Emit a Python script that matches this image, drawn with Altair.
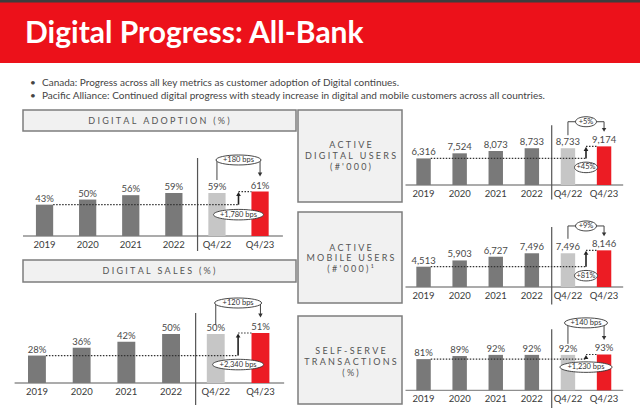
import altair as alt
import pandas as pd

# ---------------- data ----------------
categories = ["2019", "2020", "2021", "2022", "Q4/22", "Q4/23"]
bar_kind = ["annual", "annual", "annual", "annual", "prior", "current"]

digital_adoption = [43, 50, 56, 59, 59, 61]
digital_sales = [28, 36, 42, 50, 50, 51]
active_digital_users = [6316, 7524, 8073, 8733, 8733, 9174]
active_mobile_users = [4513, 5903, 6727, 7496, 7496, 8146]
self_serve = [81, 89, 92, 92, 92, 93]

# [change vs Q4/22, change vs 2019]
adoption_changes = ["+180 bps", "+1,780 bps"]
sales_changes = ["+120 bps", "+2,340 bps"]
digital_users_changes = ["+5%", "+45%"]
mobile_users_changes = ["+9%", "+81%"]
self_serve_changes = ["+140 bps", "+1,230 bps"]

title_text = "Digital Progress: All-Bank"
bullet_texts = [
    "Canada: Progress across all key metrics as customer adoption of Digital continues.",
    "Pacific Alliance: Continued digital progress with steady increase in digital and mobile customers across all countries.",
]
box_titles = {
    "adoption": ["DIGITAL ADOPTION (%)"],
    "sales": ["DIGITAL SALES (%)"],
    "digital": ["ACTIVE", "DIGITAL USERS", "(#'000)"],
    "mobile": ["ACTIVE", "MOBILE USERS", "(#'000)\u00b9"],
    "selfserve": ["SELF-SERVE", "TRANSACTIONS", "(%)"],
}

# ---------------- style ----------------
FONT = "Lato"
RED = "#ec111a"
kind_domain = ["annual", "prior", "current"]
kind_colors = ["#797979", "#c6c6c6", "#ec1c24"]
dummy = pd.DataFrame({"d": [0]})


def pct(v):
    return f"{v}%"


def thousands(v):
    return f"{v:,}"


def spaced(s):
    return "\u2005".join(s)


def ellipse_path(w, h):
    r = h / w
    return f"M-1,0A1,{r:.3f},0,1,1,1,0A1,{r:.3f},0,1,1,-1,0Z"


def panel(values, fmt, changes, xr, yr, ymax, g):
    df = pd.DataFrame({"cat": categories, "value": values, "kind": bar_kind})
    df["pos"] = list(range(len(categories)))
    df["label"] = [fmt(v) for v in values]
    xs = alt.Scale(domain=[-0.5, 5.5], range=list(xr), nice=False, zero=False)
    ys = alt.Scale(domain=[0, ymax], range=list(yr), nice=False, zero=False)

    def XD(v):
        return alt.XDatum(v, type="quantitative", scale=xs, axis=None)

    def YD(v):
        return alt.YDatum(v, type="quantitative", scale=ys, axis=None)

    v0, vq22, vq23 = values[0], values[4], values[5]
    base = alt.Chart(df)
    one = alt.Chart(dummy)
    layers = []
    # baseline
    layers.append(one.mark_rule(color="#8f8f8f", strokeWidth=1.3).encode(
        x=XD(-0.5), x2=alt.X2Datum(5.53), y=YD(0)))
    # separator
    layers.append(one.mark_rule(color="#555555", strokeWidth=1.2,
                                yOffset=g["sep"][0], y2Offset=g["sep"][1]).encode(
        x=XD(3.55), y=YD(0), y2=alt.Y2Datum(0)))
    # bars
    layers.append(base.mark_bar().transform_calculate(
        x0="datum.pos - 0.2", x1="datum.pos + 0.2").encode(
        x=alt.X("x0:Q", scale=xs, axis=None), x2="x1:Q",
        y=alt.Y("value:Q", scale=ys, axis=None), y2=alt.Y2Datum(0),
        color=alt.Color("kind:N", scale=alt.Scale(domain=kind_domain, range=kind_colors), legend=None)))
    # value labels
    layers.append(base.mark_text(font=FONT, fontSize=9.5, color="#4a4a4a",
                                 baseline="alphabetic", dy=-3).encode(
        x=alt.X("pos:Q", scale=xs, axis=None), y=alt.Y("value:Q", scale=ys, axis=None),
        text="label:N"))
    # category labels
    layers.append(base.mark_text(font=FONT, fontSize=9.5, color="#3a3a3a",
                                 baseline="middle", dy=9).encode(
        x=alt.X("pos:Q", scale=xs, axis=None), y=YD(0), text="cat:N"))
    # dotted reference lines
    layers.append(one.mark_rule(color="#333333", strokeWidth=1.2, strokeDash=[1.5, 1.5]).encode(
        x=XD(0.2), x2=alt.X2Datum(4.5), y=YD(v0)))
    layers.append(one.mark_rule(color="#333333", strokeWidth=1.2, strokeDash=[1.5, 1.5]).encode(
        x=XD(4.5), x2=alt.X2Datum(4.8), y=YD(vq23)))
    # up arrow
    layers.append(one.mark_rule(color="#222222", strokeWidth=1.6, y2Offset=4).encode(
        x=XD(4.5), y=YD(v0), y2=alt.Y2Datum(vq23)))
    layers.append(one.mark_point(shape="triangle-up", size=22, filled=True, color="#222222",
                                 opacity=1, yOffset=2.5).encode(x=XD(4.5), y=YD(vq23)))
    # bottom ellipse
    bw = g["botw"]
    layers.append(one.mark_point(shape=ellipse_path(bw, 10.5), size=bw * bw, filled=True,
                                 fill="white", stroke="#333333", strokeWidth=0.9, opacity=1,
                                 yOffset=g["bot"]).encode(x=XD(4.5), y=YD(v0)))
    layers.append(one.mark_text(font=FONT, fontSize=7.5, color="#333333", baseline="middle",
                                yOffset=g["bot"]).encode(x=XD(4.5), y=YD(v0),
                                                         text=alt.value(changes[1])))
    # top bracket
    top = g["top"]
    layers.append(one.mark_rule(color="#444444", strokeWidth=1, yOffset=g["lb"], y2Offset=top).encode(
        x=XD(4), y=YD(vq22), y2=alt.Y2Datum(vq22)))
    layers.append(one.mark_rule(color="#444444", strokeWidth=1, yOffset=top).encode(
        x=XD(4), x2=alt.X2Datum(5), y=YD(vq22)))
    layers.append(one.mark_rule(color="#444444", strokeWidth=1, yOffset=top,
                                y2Offset=g["tip"] - 3).encode(
        x=XD(5), y=YD(vq22), y2=alt.Y2Datum(vq23)))
    layers.append(one.mark_point(shape="triangle-down", size=20, filled=True, color="#333333",
                                 opacity=1, yOffset=g["tip"] - 2.5).encode(x=XD(5), y=YD(vq23)))
    tw = g["topw"]
    layers.append(one.mark_point(shape=ellipse_path(tw, 10), size=tw * tw, filled=True,
                                 fill="white", stroke="#333333", strokeWidth=0.9, opacity=1,
                                 yOffset=top).encode(x=XD(4.5), y=YD(vq22)))
    layers.append(one.mark_text(font=FONT, fontSize=7.5, color="#333333", baseline="middle",
                                yOffset=top).encode(x=XD(4.5), y=YD(vq22),
                                                    text=alt.value(changes[0])))
    return alt.layer(*layers)


def box(x0, y0, x1, y1, lines, cx, ys_lines):
    one = alt.Chart(dummy)
    out = [one.mark_rect(fill="#f1f1f1", stroke="#7d7d7d", strokeWidth=1.5).encode(
        x=alt.value(x0), x2=alt.value(x1), y=alt.value(y0), y2=alt.value(y1))]
    for line, yy in zip(lines, ys_lines):
        out.append(one.mark_text(font=FONT, fontSize=9, color="#555555", baseline="middle",
                                 align="center").encode(
            x=alt.value(cx), y=alt.value(yy), text=alt.value(spaced(line))))
    return out


one = alt.Chart(dummy)
header = [
    one.mark_rect(fill="#3d3d3d").encode(x=alt.value(0), x2=alt.value(640), y=alt.value(0), y2=alt.value(3)),
    one.mark_rect(fill=RED).encode(x=alt.value(0), x2=alt.value(640), y=alt.value(2.5), y2=alt.value(63)),
    one.mark_text(font=FONT, fontSize=30, fontWeight="bold", color="white", align="left",
                  baseline="alphabetic").encode(x=alt.value(25), y=alt.value(43),
                                                 text=alt.value(title_text)),
]
for i, t in enumerate(bullet_texts):
    yy = 82.5 + i * 13
    header.append(one.mark_text(font=FONT, fontSize=10, color="#444444", align="left",
                                baseline="middle").encode(x=alt.value(30), y=alt.value(yy),
                                                         text=alt.value("\u2022")))
    header.append(one.mark_text(font=FONT, fontSize=10, color="#444444", align="left",
                                baseline="middle").encode(x=alt.value(42), y=alt.value(yy),
                                                         text=alt.value(t)))

boxes = []
boxes += box(23, 110, 296, 131, box_titles["adoption"], 159, [120.5])
boxes += box(23, 260, 296, 282, box_titles["sales"], 159, [271])
boxes += box(298, 110, 402, 202, box_titles["digital"], 350.5, [145, 156.2, 167.4])
boxes += box(298, 212, 402, 303, box_titles["mobile"], 350.5, [248, 258.3, 268.6])
boxes += box(298, 316, 402, 404, box_titles["selfserve"], 350.5, [350.5, 361.5, 372.5])

p1 = panel(digital_adoption, pct, adoption_changes, (23, 281.6), (236, 163.1), 100,
           dict(lb=-13, top=-33, tip=-14.5, bot=10, sep=(15, -78), topw=45, botw=50))
p2 = panel(digital_sales, pct, sales_changes, (14.6, 282.8), (383, 285), 100,
           dict(lb=-9, top=-31, tip=-15, bot=9, sep=(22, -70), topw=47, botw=51))
p3 = panel(active_digital_users, thousands, digital_users_changes, (405.5, 622.1), (185, 142.9), 10000,
           dict(lb=-13, top=-26.5, tip=-14, bot=9, sep=(14.4, -59.7), topw=21, botw=23))
p4 = panel(active_mobile_users, thousands, mobile_users_changes, (405.5, 622.1), (287, 242), 10000,
           dict(lb=-14.5, top=-27.3, tip=-13.5, bot=9, sep=(17.4, -60), topw=21, botw=23))
p5 = panel(self_serve, pct, self_serve_changes, (405.5, 622.1), (390.3, 351.8), 100,
           dict(lb=-11, top=-32, tip=-14, bot=8, sep=(18, -61), topw=43, botw=52))

chart = alt.layer(*header, *boxes, p1, p2, p3, p4, p5).resolve_scale(
    x="independent", y="independent"
).properties(
    width=640, height=408, padding=0,
    autosize=alt.AutoSizeParams(type="none"),
    background="white",
).configure_view(stroke=None)

chart.save("out.html", embed_options={"renderer": "svg", "actions": False})
